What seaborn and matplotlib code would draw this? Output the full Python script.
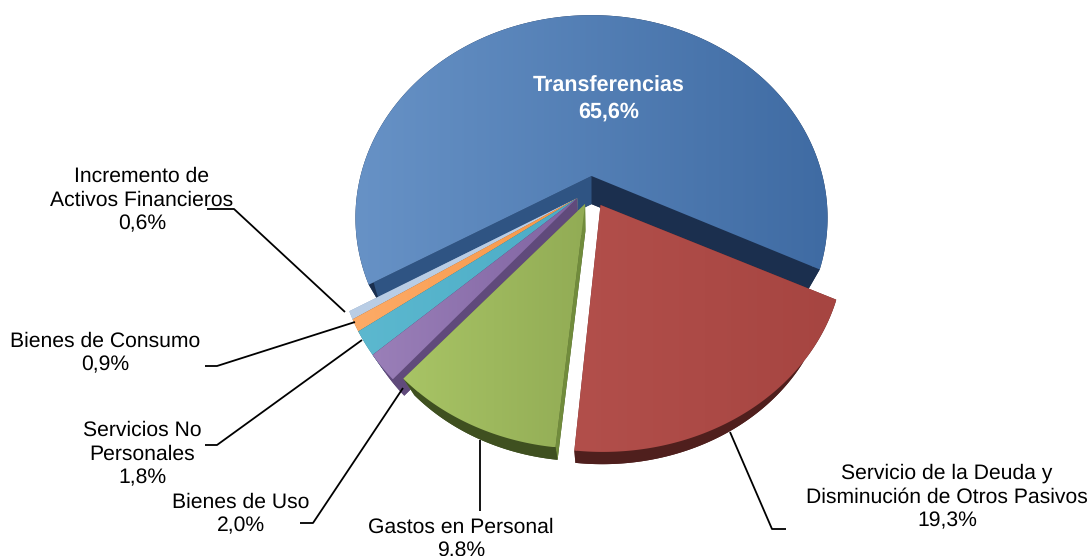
import numpy as np
import seaborn as sns
import matplotlib.pyplot as plt
from matplotlib.patches import Polygon

categories = ["Transferencias", "Incremento de\nActivos Financieros", "Bienes de Consumo",
              "Servicios No\nPersonales", "Bienes de Uso", "Gastos en Personal",
              "Servicio de la Deuda y\nDisminución de Otros Pasivos"]
values = [65.6, 0.6, 0.9, 1.8, 2.0, 9.8, 19.3]
value_labels = ["65,6%", "0,6%", "0,9%", "1,8%", "2,0%", "9,8%", "19,3%"]

# left colour, right colour, inner wall, outer rim
top_left = ["#6792c6", "#b9cde5", "#fdab67", "#5cb8cf", "#9a7fb8", "#a8c465", "#b24f4b"]
top_right = ["#3f6ba3", "#b9cde5", "#f79646", "#4bacc6", "#8064a2", "#92ac55", "#a64541"]
wall = ["#1b2f4e", "#8fa5c2", "#b8702f", "#31859c", "#604a7b", "#718c3c", "#6d2a28"]
rim = ["#1b2f4e", "#8fa5c2", "#b8702f", "#2d7a8e", "#604a7b", "#3f5020", "#4f1f1d"]

# slice offset on the pie plane and radius, fitted by eye
offset_u = [0, -0.061, -0.061, -0.061, -0.061, -0.027, 0.038]
offset_v = [0, 0.112, 0.112, 0.112, 0.112, 0.140, 0.145]
radius_u = [1, 0.99, 0.99, 0.99, 0.99, 0.985, 1.0]
radius_v = [1, 0.99, 0.99, 0.99, 0.99, 0.95, 0.955]

START = -26.0
CX, CY, A, B, P = 591.5, 176.0, 231.0, 194.0, 0.206
VP = np.array([592.0, 665.0])
DEPTH = 0.0575


def project(u, v):
    w = 1 - P * v
    return np.column_stack([CX + A * u / w, CY + B * v / w])


def lower(pts):
    return pts + DEPTH * (VP - pts)


sns.set_theme(style="white")
plt.rcParams['font.family'] = ['Liberation Sans', 'DejaVu Sans']
plt.rcParams['text.hinting'] = 'none'

fig = plt.figure(figsize=(10.92, 5.56), dpi=100)
ax = fig.add_axes([0, 0, 1, 1])
ax.set_axis_off()

ends = START + np.cumsum(values) * 3.6
starts = np.r_[START, ends[:-1]]


def slice_parts(i):
    th = np.radians(np.linspace(starts[i], ends[i], 200))
    arc = project(offset_u[i] + radius_u[i] * np.cos(th), offset_v[i] - radius_v[i] * np.sin(th))
    apex = project(np.array([offset_u[i]]), np.array([offset_v[i]]))
    return apex, arc


# blue first, then the rest back to front
for i in [0, 1, 2, 3, 4, 6, 5]:
    apex, arc = slice_parts(i)
    top = np.vstack([apex, arc])
    ax.fill(*lower(top).T, color=rim[i], lw=0, zorder=i + 1)
    # side walls
    for edge in (arc[0], arc[-1]):
        quad = np.vstack([apex, edge, lower(edge[None]), lower(apex)])
        col = wall[i]
        if i == 0 and edge[0] < CX:
            col = "#2f5483"
        ax.fill(*quad.T, color=col, lw=0, zorder=i + 1.1)
    strip = np.vstack([arc, lower(arc)[::-1]])
    ax.fill(*strip.T, color=rim[i], lw=0, zorder=i + 1.2)
    # top face with a left-right gradient
    grad = sns.blend_palette([top_left[i], top_right[i]], as_cmap=True)
    x0, x1 = top[:, 0].min(), top[:, 0].max()
    y0, y1 = top[:, 1].min(), top[:, 1].max()
    im = ax.imshow(np.linspace(0, 1, 256)[None, :], cmap=grad, aspect='auto',
                   extent=(x0, x1, y1, y0), zorder=i + 1.3)
    patch = Polygon(top, closed=True, transform=ax.transData, fc='none', ec='none')
    ax.add_patch(patch)
    im.set_clip_path(patch)

ax.set_xlim(0, 1092)
ax.set_ylim(556, 0)

# leader lines
leaders = [
    ([207, 234, 345], [209, 209, 312]),
    ([205, 217, 355], [366, 366, 322]),
    ([205, 217, 362], [445, 445, 340]),
    ([300, 313, 403], [523, 523, 388]),
    ([480, 480], [440, 511]),
    ([730, 772, 786], [432, 529, 529]),
]
for lx, ly in leaders:
    ax.plot(lx, ly, color='black', lw=1.3, zorder=20, solid_capstyle='butt')

label_pos = [(609, 99), (142, 200.5), (105, 353), (142, 454), (241, 514), (461, 539), (947, 497.5)]
for i, (x, y) in enumerate(label_pos):
    txt = categories[i] + "\n" + value_labels[i]
    if i == 0:
        ax.text(x, y, txt, color='white', fontweight='bold', fontsize=15.5, ha='center', va='center',
                linespacing=1.28, zorder=30)
    else:
        ax.text(x, y, txt, color='black', fontsize=15.2, ha='center', va='center',
                linespacing=1.28, zorder=30)

plt.savefig("out.png", dpi=100)
